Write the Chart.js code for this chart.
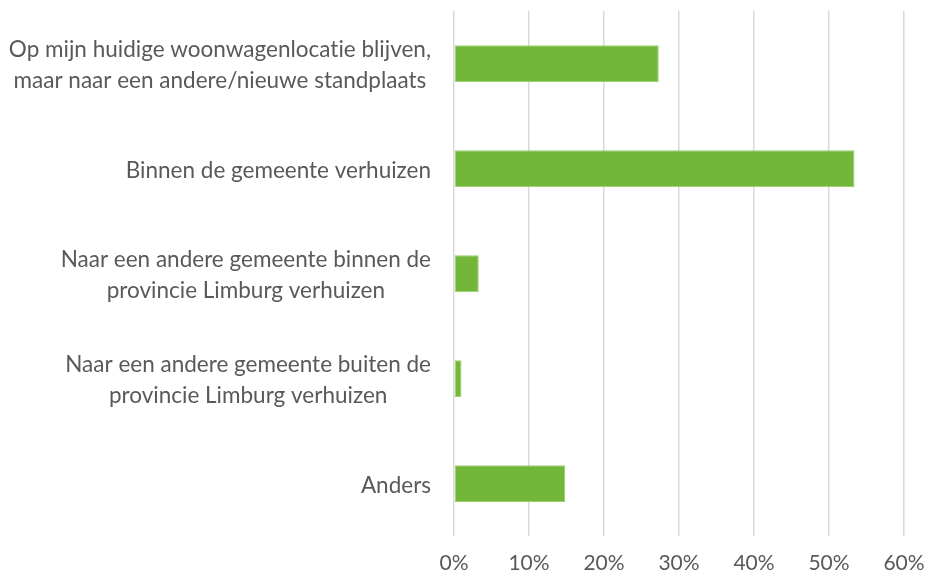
<!DOCTYPE html>
<html>
<head>
   <meta charset="UTF-8">
   <script src="https://cdn.jsdelivr.net/npm/chart.js"></script>
   <style>
       html, body {
           margin: 0;
           padding: 0;
           background: #ffffff;
       }
       .wrap {
           width: 926px;
           height: 576px;
       }
   </style>
</head>
<body>
   <div class="wrap">
       <canvas id="grafiek" width="926" height="576"></canvas>
   </div>

   <script>
       // Categorieën (meerdere regels per label)
       const categorieen = [
           ['Op mijn huidige woonwagenlocatie blijven,', 'maar naar een andere/nieuwe standplaats'],
           ['Binnen de gemeente verhuizen'],
           ['Naar een andere gemeente binnen de', 'provincie Limburg verhuizen'],
           ['Naar een andere gemeente buiten de', 'provincie Limburg verhuizen'],
           ['Anders']
       ];

       // Percentages
       const percentages = [27.3, 53.4, 3.3, 1.0, 14.8];

       // Labels op de x-as
       const xLabels = ['0%', '10%', '20%', '30%', '40%', '50%', '60%'];

       const tekstKleur = '#595959';
       const lettertype = 'Lato, "Open Sans", sans-serif';

       // Labels op de y-as: blok rechts uitgelijnd, regels onderling gecentreerd
       const yLabelsPlugin = {
           id: 'yLabels',
           afterDraw(chart) {
               const ctx = chart.ctx;
               const yAs = chart.scales.y;
               const rechts = chart.chartArea.left - 23;
               ctx.save();
               ctx.font = '22.5px ' + lettertype;
               if ('textRendering' in ctx) ctx.textRendering = 'optimizeSpeed';
               ctx.fillStyle = tekstKleur;
               ctx.textAlign = 'center';
               ctx.textBaseline = 'middle';
               categorieen.forEach((regels, i) => {
                   const breedte = Math.max(...regels.map(r => ctx.measureText(r).width));
                   const cx = rechts - breedte / 2;
                   const cy = yAs.getPixelForTick(i) + 2;
                   regels.forEach((r, j) => {
                       ctx.fillText(r, cx, cy + (j - (regels.length - 1) / 2) * 31);
                   });
               });
               ctx.restore();
           }
       };

       const ctx = document.getElementById('grafiek').getContext('2d');
       new Chart(ctx, {
           type: 'bar',
           data: {
               labels: categorieen,
               datasets: [{
                   data: percentages,
                   backgroundColor: '#72b63a',
                   borderColor: '#9dd070',
                   borderWidth: 1,
                   borderSkipped: false,
                   barPercentage: 0.5,
                   categoryPercentage: 0.7
               }]
           },
           options: {
               indexAxis: 'y',
               responsive: false,
               animation: false,
               layout: {
                   padding: { top: 11, right: 22, left: 0, bottom: 0 }
               },
               plugins: {
                   legend: { display: false },
                   tooltip: { enabled: false }
               },
               scales: {
                   x: {
                       min: 0,
                       max: 60,
                       border: { display: false },
                       grid: {
                           color: '#d9d9d9',
                           lineWidth: 1.5,
                           drawTicks: false
                       },
                       ticks: {
                           stepSize: 10,
                           padding: 15,
                           color: tekstKleur,
                           font: { family: lettertype, size: 21 },
                           callback: (v, i) => xLabels[i]
                       },
                       afterFit(scale) {
                           scale.height = 40;
                           scale.paddingLeft = 0;
                           scale.paddingRight = 0;
                       }
                   },
                   y: {
                       border: { display: false },
                       grid: { display: false },
                       ticks: { display: false },
                       afterFit(scale) {
                           scale.width = 454;
                       }
                   }
               }
           },
           plugins: [yLabelsPlugin]
       });
   </script>
</body>
</html>
